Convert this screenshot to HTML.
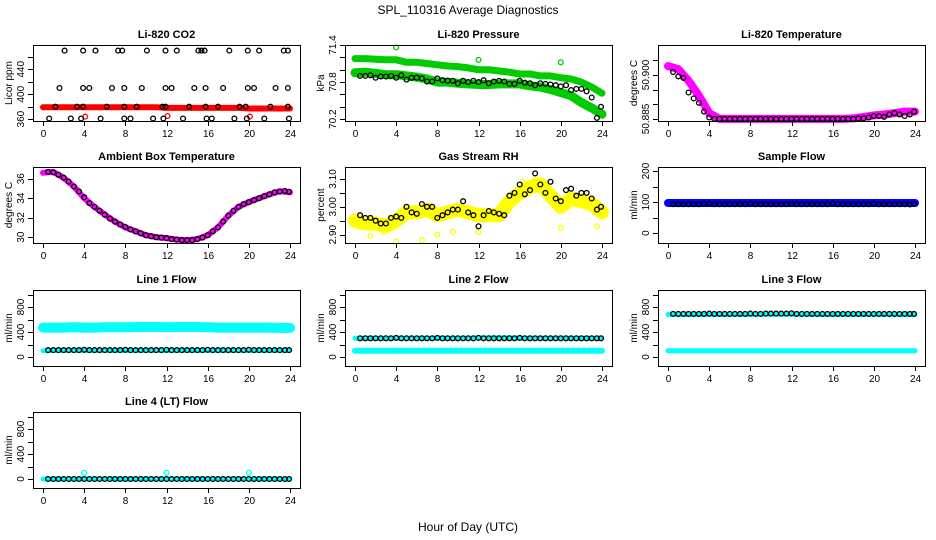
<!DOCTYPE html>
<html><head><meta charset="utf-8"><style>
html,body{margin:0;padding:0;background:#fff}
svg{display:block}
text{font-family:"Liberation Sans",sans-serif;fill:#000}
</style></head><body>
<svg id="chart" width="936" height="540" viewBox="0 0 936 540">
<text x="468" y="14" font-size="12" text-anchor="middle">SPL_110316  Average Diagnostics</text>
<text x="468" y="531" font-size="12" text-anchor="middle">Hour of Day (UTC)</text>
</svg>
<script>
// shared x categories
const hoursPts = [0.5,1,1.5,2,2.5,3,3.5,4,4.5,5,5.5,6,6.5,7,7.5,8,8.5,9,9.5,10,10.5,11,11.5,12,12.5,13,13.5,14,14.5,15,15.5,16,16.5,17,17.5,18,18.5,19,19.5,20,20.5,21,21.5,22,22.5,23,23.5,23.9];
const hoursBand = [0,1,2,3,4,5,6,7,8,9,10,11,12,13,14,15,16,17,18,19,20,21,22,23,24];
const xTicks = [0,4,8,12,16,20,24];

// CO2
const co2BlackX = [2.1,3.9,5.1,7.3,7.7,10.1,11.9,13.0,15.1,15.4,15.7,18.1,19.9,21.0,23.4,23.8, 1.6,3.9,4.5,6.7,7.9,9.6,11.9,12.5,14.7,15.8,17.5,19.9,20.5,22.6,23.8, 1.2,3.3,3.9,6.2,7.9,9.1,11.6,11.9,14.2,15.8,17.0,19.1,19.7,22.1,23.8, 0.6,2.7,3.7,5.6,7.9,8.5,10.7,11.7,13.6,15.9,16.4,18.6,19.8,21.5,23.9];
const co2BlackY = [470,470,470,470,470,470,470,470,470,470,470,470,470,470,470,470, 410,410,410,410,410,410,410,410,410,410,410,410,410,410,410, 380,380,380,380,380,380,380,380,380,380,380,380,380,380,380, 361,361,361,361,361,361,361,361,361,361,361,361,361,361,361];
const co2Red = [379,379,379,379,379,379,379,379,379,379,379,379,378,378,378,378,378,378,378,378,377,377,377,377,377];
const co2RedOutX = [4.1,12.1,20.1];
const co2RedOutY = [364,365,364];

// Pressure
const presUpper = [71.18,71.18,71.17,71.16,71.16,71.12,71.12,71.1,71.08,71.06,71.05,71.03,71.0,71.0,70.98,70.96,70.93,70.93,70.9,70.9,70.87,70.85,70.8,70.72,70.62];
const presLower = [70.95,70.96,70.94,70.92,70.92,70.9,70.88,70.85,70.8,70.8,70.78,70.77,70.76,70.76,70.77,70.77,70.77,70.74,70.72,70.68,70.63,70.58,70.47,70.38,70.28];
const presBlack = [70.9,70.9,70.91,70.87,70.89,70.89,70.9,70.87,70.91,70.84,70.87,70.87,70.86,70.81,70.81,70.86,70.83,70.82,70.82,70.78,70.82,70.8,70.82,70.8,70.83,70.78,70.81,70.82,70.81,70.77,70.77,70.82,70.79,70.78,70.75,70.78,70.77,70.76,70.75,70.73,70.75,70.67,70.69,70.69,70.65,70.55,70.22,70.4];
const presOutX = [4,12,20];
const presOutY = [71.36,71.16,71.12];

// Li-820 temperature
const ltMag = [50.903,50.902,50.898,50.893,50.887,50.885,50.885,50.885,50.885,50.885,50.885,50.885,50.885,50.885,50.885,50.885,50.885,50.885,50.8852,50.8857,50.8862,50.8865,50.887,50.8875,50.8875];
const ltBlack = [50.901,50.8995,50.899,50.894,50.892,50.8905,50.8875,50.8855,50.885,50.885,50.885,50.885,50.885,50.885,50.885,50.885,50.885,50.885,50.885,50.885,50.885,50.885,50.885,50.885,50.885,50.885,50.885,50.885,50.885,50.885,50.885,50.885,50.885,50.885,50.885,50.885,50.8852,50.8852,50.8855,50.886,50.886,50.8857,50.8865,50.887,50.8865,50.886,50.8865,50.8875];

// Ambient box temperature
const ambMag = [36.6,36.7,36.1,35.2,34.0,33.1,32.3,31.6,31.0,30.6,30.2,30.0,29.9,29.75,29.7,29.8,30.2,31.0,32.2,33.1,33.6,34.0,34.4,34.7,34.6];
const ambBlack = [36.7,36.65,36.4,36.1,35.7,35.2,34.7,34.1,33.5,33.1,32.7,32.3,31.9,31.6,31.3,31.05,30.8,30.6,30.4,30.2,30.1,30.0,29.95,29.9,29.8,29.75,29.7,29.7,29.7,29.8,29.95,30.2,30.6,31.0,31.6,32.2,32.7,33.1,33.4,33.6,33.8,34.0,34.2,34.4,34.6,34.7,34.75,34.65];

// Gas stream RH
const rhYellow = [2.95,2.94,2.94,2.93,2.95,2.98,2.98,2.99,2.97,2.98,2.99,2.98,2.97,2.97,2.97,3.02,3.05,3.07,3.08,3.04,3.0,3.03,3.02,3.01,2.98];
const rhBlack = [2.97,2.96,2.96,2.95,2.94,2.94,2.96,2.965,2.96,3.0,2.98,2.975,3.01,3.0,3.0,2.96,2.97,2.98,2.99,2.99,3.02,2.98,2.97,2.93,2.97,2.985,2.98,2.975,2.97,3.04,3.05,3.08,3.045,3.06,3.12,3.08,3.05,3.09,3.03,3.02,3.06,3.065,3.04,3.05,3.05,3.03,2.99,3.0];
const rhOutX = [4,1.5,6.5,8,9.5,12,20,23.5,17.5,16.3,0.3,2.8];
const rhOutY = [2.875,2.895,2.88,2.9,2.91,2.91,2.925,2.93,3.1,3.09,2.93,2.91];

// Sample flow
const sfBlue = [97,97,97,97,97,97,97,97,97,97,97,97,97,97,97,97,97,97,97,97,97,97,97,97,97];
const sfBlack = [93,93,93,93,93,93,94,95,93,93,93,93,93,93,93,95,93,93,93,93,93,93,93,94,93,93,93,93,93,93,93,95,93,93,93,93,93,93,93,94,93,93,93,93,93,93,92,94];

// Line flows
const l1Cyan = [470,470,470,475,470,470,475,475,475,480,480,480,475,480,480,480,475,470,470,470,470,470,470,465,465];
const l1CyanLow = [100,105,105,105,105,105,105,105,105,105,105,105,105,105,105,105,105,105,105,105,105,105,105,105,105];
const l1Black = [110,110,110,110,110,110,110,115,110,110,110,110,110,110,110,115,110,110,110,110,110,110,110,115,110,110,110,110,110,110,110,115,110,110,110,110,110,110,110,115,110,110,110,110,110,110,110,110];
const l2Cyan = [300,300,300,300,300,300,300,300,300,300,300,300,305,305,305,305,300,300,300,300,300,300,300,300,300];
const l2CyanLow = [100,100,100,100,100,100,100,100,100,100,100,100,100,100,100,100,100,100,100,100,100,100,100,100,100];
const l2Black = [300,300,300,300,300,300,300,305,300,300,300,300,300,300,300,305,300,300,300,300,300,300,300,305,300,300,300,300,300,300,300,305,300,300,300,300,300,300,300,300,300,300,300,300,300,300,300,300];
const l3Cyan = [680,680,680,680,680,680,680,680,680,685,685,685,685,685,680,680,680,680,680,680,680,680,680,680,680];
const l3CyanLow = [100,100,100,100,100,100,100,100,100,100,100,100,100,100,100,100,100,100,100,100,100,100,100,100,100];
const l3Black = [690,690,690,690,690,690,690,695,690,690,690,690,690,690,690,695,690,690,695,695,695,695,695,700,690,690,690,690,690,690,690,690,690,690,690,690,690,690,690,690,690,690,690,690,690,690,690,690];
const l4Cyan = [0,0,0,0,0,0,0,0,0,0,0,0,0,0,0,0,0,0,0,0,0,0,0,0,0];
const l4Black = [0,0,0,0,0,0,0,0,0,0,0,0,0,0,0,0,0,0,0,0,0,0,0,0,0,0,0,0,0,0,0,0,0,0,0,0,0,0,0,0,0,0,0,0,0,0,0,0];
const l4OutX = [4,12,20];
const l4OutY = [100,100,100];

const svg = document.getElementById('chart');
const NS = 'http://www.w3.org/2000/svg';
function mk(tag, attrs, parent){
  const e = document.createElementNS(NS, tag);
  for (const k in attrs) e.setAttribute(k, attrs[k]);
  (parent||svg).appendChild(e);
  return e;
}
const colLeft = [33,345,658];
const rowTop = [45,167,290,412];
const W = 267, H = 76;

function panel(p){
  const L = colLeft[p.col], T = rowTop[p.row], B = T + H;
  const g = mk('g', {});
  
  
  const xs = v => L + 10 + v / 24 * 247;
  const ys = v => B - (v - p.ymin) / (p.ymax - p.ymin) * H;
  const t = mk('text', {x: L + W/2, y: T - 7, 'font-size': 11, 'font-weight': 'bold', 'text-anchor': 'middle'}, g);
  t.textContent = p.title;
  
  
  // series
  p.series.forEach(s => {
    if (s.type === 'band') {
      const pts = s.ys.map((v, i) => xs(s.xs[i]).toFixed(1) + ',' + ys(v).toFixed(1)).join(' ');
      const pl = mk('polyline', {points: pts, fill: 'none', stroke: s.color, 'stroke-width': s.w, 'stroke-linejoin': 'round', 'stroke-linecap': 'round'}, g);
      
      
    } else {
      s.ys.forEach((v, i) => {
        const c = mk('circle', {cx: xs(s.xs[i]).toFixed(1), cy: ys(v).toFixed(1), r: 2.4, fill: 'none', stroke: s.color, 'stroke-width': 1.3}, g);
        
        
      });
    }
  });
  // box
  const box = mk('rect', {x: L + 0.5, y: T + 0.5, width: W, height: H, fill: 'none', stroke: '#000', 'stroke-width': 1}, g);
  
  
  // x axis
  const xa = mk('g', {}, g);
  
  
  xTicks.forEach(v => {
    const x = Math.round(xs(v)) + 0.5;
    mk('line', {x1: x, x2: x, y1: B, y2: B + 5, stroke: '#000'}, xa);
    const lt = mk('text', {x: x, y: B + 16, 'font-size': 10, 'text-anchor': 'middle'}, xa);
    lt.textContent = v;
  });
  // y axis
  const ya = mk('g', {}, g);
  
  
  p.yticks.forEach(v => {
    const y = Math.round(ys(v)) + 0.5;
    mk('line', {x1: L - 5, x2: L, y1: y, y2: y, stroke: '#000'}, ya);
  });
  p.ylabels.forEach(v => {
    const y = ys(v);
    const lt = mk('text', {x: L - 9, y: y, 'font-size': 10, 'text-anchor': 'middle', transform: `rotate(-90 ${L - 9} ${y})`}, ya);
    lt.textContent = p.fmt ? p.fmt(v) : v;
  });
  const yl = mk('text', {x: L - 21, y: T + H/2, 'font-size': 10, 'text-anchor': 'middle', transform: `rotate(-90 ${L - 21} ${T + H/2})`}, g);
  yl.textContent = p.ylab;
  
  
}

panel({name:'co2-panel', col:0,row:0,title:'Li-820 CO2',ylab:'Licor ppm',ymin:357,ymax:479,
  yticks:[360,380,400,420,440,460],ylabels:[360,400,440],
  series:[{type:'band',name:'co2-red-band',xs:hoursBand,ys:co2Red,color:'#ff0000',w:6},
          {type:'pts',name:'co2-red-point',xs:co2RedOutX,ys:co2RedOutY,color:'#ff0000'},
          {type:'pts',name:'co2-black-point',xs:co2BlackX,ys:co2BlackY,color:'#000'}]});
panel({name:'pressure-panel', col:1,row:0,title:'Li-820 Pressure',ylab:'kPa',ymin:70.17,ymax:71.4,
  yticks:[70.2,70.4,70.6,70.8,71.0,71.2,71.4],ylabels:[70.2,70.8,71.4],fmt:v=>v.toFixed(1),
  series:[{type:'band',name:'pressure-upper-band',xs:hoursBand,ys:presUpper,color:'#00cc00',w:7},
          {type:'band',name:'pressure-lower-band',xs:hoursBand,ys:presLower,color:'#00cc00',w:9},
          {type:'pts',name:'pressure-green-point',xs:presOutX,ys:presOutY,color:'#00cc00'},
          {type:'pts',name:'pressure-black-point',xs:hoursPts,ys:presBlack,color:'#000'}]});
panel({name:'li820-temp-panel', col:2,row:0,title:'Li-820 Temperature',ylab:'degrees C',ymin:50.8843,ymax:50.9102,
  yticks:[50.885,50.89,50.895,50.9,50.905],ylabels:[50.885,50.9],fmt:v=>v.toFixed(3),
  series:[{type:'band',name:'li820-temp-band',xs:hoursBand,ys:ltMag,color:'#ff00ff',w:8},
          {type:'pts',name:'li820-temp-black-point',xs:hoursPts,ys:ltBlack,color:'#000'}]});
panel({name:'ambient-temp-panel', col:0,row:1,title:'Ambient Box Temperature',ylab:'degrees C',ymin:29.4,ymax:37.2,
  yticks:[30,32,34,36],ylabels:[30,32,34,36],
  series:[{type:'band',name:'ambient-band',xs:hoursBand,ys:ambMag,color:'#ff00ff',w:6},
          {type:'pts',name:'ambient-black-point',xs:hoursPts,ys:ambBlack,color:'#000'}]});
panel({name:'rh-panel', col:1,row:1,title:'Gas Stream RH',ylab:'percent',ymin:2.87,ymax:3.143,
  yticks:[2.9,2.95,3.0,3.05,3.1],ylabels:[2.9,3.0,3.1],fmt:v=>v.toFixed(2),
  series:[{type:'band',name:'rh-yellow-band',xs:hoursBand,ys:rhYellow,color:'#ffff00',w:14},
          {type:'pts',name:'rh-yellow-point',xs:rhOutX,ys:rhOutY,color:'#ffff00'},
          {type:'pts',name:'rh-black-point',xs:hoursPts,ys:rhBlack,color:'#000'}]});
panel({name:'sample-flow-panel', col:2,row:1,title:'Sample Flow',ylab:'ml/min',ymin:-32,ymax:213,
  yticks:[0,50,100,150,200],ylabels:[0,100,200],
  series:[{type:'band',name:'sample-flow-band',xs:hoursBand,ys:sfBlue,color:'#0000ff',w:8},
          {type:'pts',name:'sample-flow-black-point',xs:hoursPts,ys:sfBlack,color:'#000'}]});
const flowTicks=[0,200,400,600,800,1000], flowLabels=[0,400,800];
panel({name:'line1-flow-panel', col:0,row:2,title:'Line 1 Flow',ylab:'ml/min',ymin:-144,ymax:1072,
  yticks:flowTicks,ylabels:flowLabels,
  series:[{type:'band',name:'line1-cyan-band',xs:hoursBand,ys:l1Cyan,color:'#00ffff',w:10},
          {type:'band',name:'line1-cyan-low-band',xs:hoursBand,ys:l1CyanLow,color:'#00ffff',w:5},
          {type:'pts',name:'line1-black-point',xs:hoursPts,ys:l1Black,color:'#000'}]});
panel({name:'line2-flow-panel', col:1,row:2,title:'Line 2 Flow',ylab:'ml/min',ymin:-144,ymax:1072,
  yticks:flowTicks,ylabels:flowLabels,
  series:[{type:'band',name:'line2-cyan-band',xs:hoursBand,ys:l2Cyan,color:'#00ffff',w:5},
          {type:'band',name:'line2-cyan-low-band',xs:hoursBand,ys:l2CyanLow,color:'#00ffff',w:6},
          {type:'pts',name:'line2-black-point',xs:hoursPts,ys:l2Black,color:'#000'}]});
panel({name:'line3-flow-panel', col:2,row:2,title:'Line 3 Flow',ylab:'ml/min',ymin:-144,ymax:1072,
  yticks:flowTicks,ylabels:flowLabels,
  series:[{type:'band',name:'line3-cyan-band',xs:hoursBand,ys:l3Cyan,color:'#00ffff',w:5},
          {type:'band',name:'line3-cyan-low-band',xs:hoursBand,ys:l3CyanLow,color:'#00ffff',w:5},
          {type:'pts',name:'line3-black-point',xs:hoursPts,ys:l3Black,color:'#000'}]});
panel({name:'line4-flow-panel', col:0,row:3,title:'Line 4 (LT) Flow',ylab:'ml/min',ymin:-144,ymax:1072,
  yticks:flowTicks,ylabels:flowLabels,
  series:[{type:'band',name:'line4-cyan-band',xs:hoursBand,ys:l4Cyan,color:'#00ffff',w:5},
          {type:'pts',name:'line4-cyan-point',xs:l4OutX,ys:l4OutY,color:'#00ffff'},
          {type:'pts',name:'line4-black-point',xs:hoursPts,ys:l4Black,color:'#000'}]});
</script>
</body></html>
